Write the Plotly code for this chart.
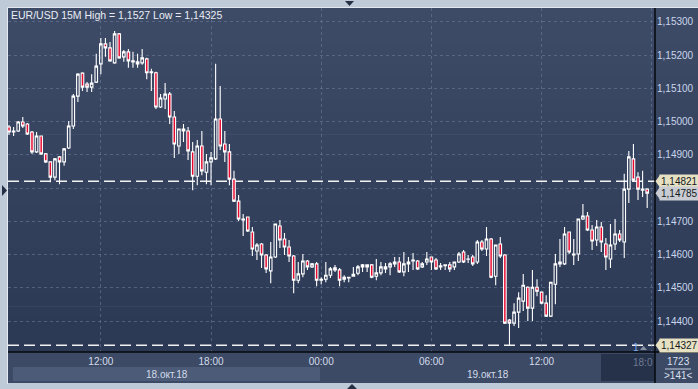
import plotly.graph_objects as go
import pandas as pd

# ---------------- data ----------------
times = pd.date_range("2018-10-18 07:00", periods=140, freq="15min")

opens = [1.14984, 1.14969, 1.14972, 1.14999, 1.14993, 1.14969, 1.14909, 1.14957, 1.14903, 1.14879,
         1.14833, 1.14894, 1.14879, 1.14921, 1.14987, 1.15077, 1.15146, 1.15113, 1.15104, 1.15119,
         1.15174, 1.15234, 1.15222, 1.15177, 1.15264, 1.15195, 1.15210, 1.15180, 1.15180, 1.15177,
         1.15189, 1.15147, 1.15147, 1.15044, 1.15068, 1.15083, 1.15014, 1.14927, 1.14972, 1.14972,
         1.14909, 1.14836, 1.14927, 1.14848, 1.14879, 1.14888, 1.15008, 1.14933, 1.14909, 1.14827,
         1.14761, 1.14704, 1.14713, 1.14668, 1.14611, 1.14632, 1.14599, 1.14551, 1.14593, 1.14686,
         1.14647, 1.14623, 1.14596, 1.14523, 1.14542, 1.14581, 1.14563, 1.14572, 1.14523, 1.14526,
         1.14538, 1.14560, 1.14554, 1.14526, 1.14530, 1.14535, 1.14544, 1.14563, 1.14569, 1.14569,
         1.14535, 1.14545, 1.14563, 1.14563, 1.14572, 1.14578, 1.14548, 1.14572, 1.14581, 1.14581,
         1.14563, 1.14578, 1.14593, 1.14584, 1.14563, 1.14567, 1.14569, 1.14563, 1.14578, 1.14608,
         1.14586, 1.14593, 1.14578, 1.14638, 1.14617, 1.14647, 1.14535, 1.14632, 1.14599, 1.14403,
         1.14394, 1.14427, 1.14460, 1.14502, 1.14439, 1.14502, 1.14487, 1.14454, 1.14415, 1.14511,
         1.14572, 1.14572, 1.14668, 1.14599, 1.14602, 1.14707, 1.14716, 1.14674, 1.14644, 1.14683,
         1.14632, 1.14587, 1.14632, 1.14662, 1.14638, 1.14797, 1.14888, 1.14833, 1.14794, 1.14797]

highs = [1.14990, 1.14984, 1.15002, 1.15014, 1.14996, 1.14972, 1.14969, 1.14957, 1.14906, 1.14879,
         1.14891, 1.14897, 1.14921, 1.15002, 1.15083, 1.15146, 1.15149, 1.15119, 1.15143, 1.15204,
         1.15252, 1.15252, 1.15240, 1.15273, 1.15267, 1.15216, 1.15219, 1.15210, 1.15204, 1.15219,
         1.15192, 1.15159, 1.15150, 1.15083, 1.15116, 1.15089, 1.15032, 1.14978, 1.14993, 1.14984,
         1.14939, 1.14945, 1.14972, 1.14903, 1.14909, 1.15174, 1.15107, 1.14972, 1.14933, 1.14852,
         1.14779, 1.14722, 1.14713, 1.14683, 1.14635, 1.14635, 1.14602, 1.14638, 1.14692, 1.14704,
         1.14665, 1.14644, 1.14599, 1.14578, 1.14602, 1.14584, 1.14575, 1.14578, 1.14532, 1.14578,
         1.14563, 1.14569, 1.14560, 1.14538, 1.14533, 1.14563, 1.14569, 1.14572, 1.14571, 1.14572,
         1.14587, 1.14578, 1.14575, 1.14578, 1.14593, 1.14593, 1.14608, 1.14593, 1.14605, 1.14584,
         1.14578, 1.14608, 1.14593, 1.14590, 1.14575, 1.14569, 1.14578, 1.14578, 1.14608, 1.14614,
         1.14599, 1.14599, 1.14644, 1.14644, 1.14683, 1.14650, 1.14629, 1.14653, 1.14602, 1.14406,
         1.14454, 1.14487, 1.14542, 1.14505, 1.14554, 1.14526, 1.14487, 1.14478, 1.14517, 1.14602,
         1.14647, 1.14683, 1.14668, 1.14647, 1.14707, 1.14752, 1.14728, 1.14689, 1.14704, 1.14698,
         1.14650, 1.14692, 1.14707, 1.14674, 1.14843, 1.14912, 1.14933, 1.14848, 1.14852, 1.14800]

lows = [1.14960, 1.14957, 1.14969, 1.14981, 1.14960, 1.14903, 1.14906, 1.14900, 1.14876, 1.14818,
        1.14824, 1.14812, 1.14867, 1.14918, 1.14978, 1.15059, 1.15092, 1.15089, 1.15089, 1.15116,
        1.15143, 1.15195, 1.15180, 1.15174, 1.15189, 1.15180, 1.15162, 1.15162, 1.15162, 1.15171,
        1.15128, 1.15092, 1.15038, 1.15041, 1.15038, 1.14993, 1.14891, 1.14903, 1.14939, 1.14885,
        1.14794, 1.14809, 1.14839, 1.14812, 1.14809, 1.14885, 1.14915, 1.14879, 1.14809, 1.14758,
        1.14701, 1.14656, 1.14668, 1.14596, 1.14584, 1.14560, 1.14545, 1.14514, 1.14590, 1.14620,
        1.14599, 1.14578, 1.14484, 1.14514, 1.14532, 1.14554, 1.14560, 1.14505, 1.14511, 1.14517,
        1.14530, 1.14548, 1.14505, 1.14517, 1.14517, 1.14535, 1.14538, 1.14548, 1.14548, 1.14529,
        1.14523, 1.14538, 1.14545, 1.14538, 1.14563, 1.14545, 1.14535, 1.14548, 1.14554, 1.14554,
        1.14560, 1.14569, 1.14554, 1.14554, 1.14554, 1.14554, 1.14548, 1.14554, 1.14575, 1.14575,
        1.14575, 1.14566, 1.14572, 1.14611, 1.14596, 1.14529, 1.14508, 1.14590, 1.14391, 1.14325,
        1.14385, 1.14379, 1.14430, 1.14400, 1.14400, 1.14475, 1.14451, 1.14412, 1.14412, 1.14451,
        1.14563, 1.14569, 1.14602, 1.14569, 1.14581, 1.14704, 1.14671, 1.14614, 1.14626, 1.14608,
        1.14554, 1.14560, 1.14614, 1.14638, 1.14590, 1.14755, 1.14821, 1.14764, 1.14773, 1.14740]

closes = [1.14969, 1.14972, 1.14999, 1.14987, 1.14963, 1.14909, 1.14957, 1.14903, 1.14879, 1.14833,
          1.14888, 1.14879, 1.14918, 1.14987, 1.15077, 1.15143, 1.15104, 1.15104, 1.15116, 1.15167,
          1.15234, 1.15222, 1.15183, 1.15264, 1.15192, 1.15210, 1.15183, 1.15183, 1.15174, 1.15192,
          1.15147, 1.15150, 1.15044, 1.15071, 1.15083, 1.15014, 1.14933, 1.14978, 1.14978, 1.14912,
          1.14836, 1.14927, 1.14852, 1.14879, 1.14891, 1.15008, 1.14927, 1.14909, 1.14827, 1.14761,
          1.14707, 1.14707, 1.14671, 1.14617, 1.14629, 1.14599, 1.14557, 1.14593, 1.14692, 1.14644,
          1.14623, 1.14596, 1.14523, 1.14542, 1.14581, 1.14563, 1.14572, 1.14523, 1.14526, 1.14538,
          1.14557, 1.14554, 1.14523, 1.14532, 1.14532, 1.14541, 1.14563, 1.14569, 1.14563, 1.14532,
          1.14545, 1.14563, 1.14557, 1.14572, 1.14578, 1.14548, 1.14572, 1.14578, 1.14584, 1.14557,
          1.14572, 1.14587, 1.14578, 1.14557, 1.14566, 1.14569, 1.14557, 1.14578, 1.14602, 1.14578,
          1.14587, 1.14572, 1.14638, 1.14617, 1.14647, 1.14532, 1.14629, 1.14596, 1.14394, 1.14394,
          1.14427, 1.14469, 1.14508, 1.14439, 1.14502, 1.14490, 1.14454, 1.14415, 1.14517, 1.14572,
          1.14578, 1.14662, 1.14608, 1.14602, 1.14707, 1.14716, 1.14674, 1.14641, 1.14683, 1.14638,
          1.14593, 1.14629, 1.14662, 1.14644, 1.14797, 1.14894, 1.14824, 1.14797, 1.14797, 1.14785]

price_ticks = [1.144, 1.145, 1.146, 1.147, 1.148, 1.149, 1.150, 1.151, 1.152, 1.153]
price_labels = ["1,14400", "1,14500", "1,14600", "1,14700", "", "1,14900",
                "1,15000", "1,15100", "1,15200", "1,15300"]
time_ticks = ["2018-10-18 12:00", "2018-10-18 18:00", "2018-10-19 00:00",
              "2018-10-19 06:00", "2018-10-19 12:00", "2018-10-19 18:00"]
time_labels = ["12:00", "18:00", "00:00", "06:00", "12:00", ""]
date_labels = ["18.окт.18", "19.окт.18"]
title_text = "EUR/USD 15M High = 1,1527 Low = 1,14325"
level_prices = [1.14821, 1.14327]
level_labels = ["1,14821", "1,14327"]
last_price = 1.14785
last_label = "1,14785"

# ---------------- layout geometry ----------------
W, H = 698, 389
ML, MR, MT, MB = 8, 43, 8, 37
PW, PH = W - ML - MR, H - MT - MB
FONT = "Liberation Sans, Arial, sans-serif"


def pxx(x):
    return (x - ML) / PW


def pxy(y):
    return (H - MB - y) / PH


YR = [1.14307, 1.15342]
ypp = (YR[1] - YR[0]) / PH  # price per pixel

fig = go.Figure()
fig.add_trace(go.Candlestick(
    x=times, open=opens, high=highs, low=lows, close=closes,
    increasing=dict(line=dict(color="#ffffff", width=1.1), fillcolor="rgba(0,0,0,0)"),
    decreasing=dict(line=dict(color="#ffffff", width=1.1), fillcolor="#e8092f"),
    hoverinfo="skip", showlegend=False,
))

shapes = []
# gradient background (plot + right axis)
top_c = (62, 75, 103)
bot_c = (44, 57, 85)
N = 30
for i in range(N):
    t = i / (N - 1)
    c = tuple(int(round(top_c[k] + (bot_c[k] - top_c[k]) * t)) for k in range(3))
    y0 = 8 + i * (344 / N)
    y1 = 8 + (i + 1) * (344 / N)
    shapes.append(dict(type="rect", xref="paper", yref="paper",
                       x0=pxx(8), x1=pxx(698), y0=pxy(y1) - 0.002, y1=pxy(y0),
                       fillcolor="rgb(%d,%d,%d)" % c, line=dict(width=0), layer="below"))
# light inner edge of the frame
shapes.append(dict(type="line", xref="paper", yref="paper", x0=pxx(7.5), x1=pxx(7.5),
                   y0=pxy(384), y1=pxy(7.5), line=dict(color="#e4e9f0", width=1), layer="below"))
shapes.append(dict(type="line", xref="paper", yref="paper", x0=pxx(7.5), x1=pxx(698),
                   y0=pxy(7.5), y1=pxy(7.5), line=dict(color="#e4e9f0", width=1), layer="below"))
# bottom time bar
shapes.append(dict(type="rect", xref="paper", yref="paper", x0=pxx(8), x1=pxx(698),
                   y0=pxy(383), y1=pxy(352), fillcolor="rgb(61,74,101)",
                   line=dict(width=0), layer="below"))
# date band of 18 Oct
shapes.append(dict(type="rect", xref="paper", yref="paper", x0=pxx(13), x1=pxx(320),
                   y0=pxy(381), y1=pxy(367), fillcolor="rgb(76,91,119)",
                   line=dict(width=0), layer="below"))
# dark future block
shapes.append(dict(type="rect", xref="paper", yref="paper", x0=pxx(601), x1=pxx(655),
                   y0=pxy(381), y1=pxy(354), fillcolor="rgb(38,50,74)",
                   line=dict(width=0), layer="below"))
# dashed level lines
for lp in level_prices:
    shapes.append(dict(type="line", xref="paper", yref="y", x0=0, x1=1, y0=lp, y1=lp,
                       line=dict(color="#f2f2f2", width=1.5, dash="11px,5px"), layer="between"))
# black frame lines
shapes.append(dict(type="line", xref="paper", yref="paper", x0=1, x1=1,
                   y0=pxy(383), y1=pxy(8), line=dict(color="#05080d", width=1.5)))
shapes.append(dict(type="line", xref="paper", yref="paper", x0=pxx(8), x1=pxx(698),
                   y0=0, y1=0, line=dict(color="#05080d", width=1.5)))
# tag pointers
for lp, col in [(level_prices[0], "#e6e1c3"), (last_price, "#c9cdd3"), (level_prices[1], "#e6e1c3")]:
    shapes.append(dict(type="path", xref="paper", yref="y",
                       path="M %f,%f L %f,%f L %f,%f Z" % (pxx(655.5), lp, pxx(660.5), lp + 7 * ypp,
                                                          pxx(660.5), lp - 7 * ypp),
                       fillcolor=col, line=dict(width=0)))
# separator line in bottom-right box
shapes.append(dict(type="line", xref="paper", yref="paper", x0=pxx(665), x1=pxx(691),
                   y0=pxy(369), y1=pxy(369), line=dict(color="#c8d2e2", width=1)))
# small decorative arrows on the frame
shapes.append(dict(type="path", xref="paper", yref="paper",
                   path="M %f,%f L %f,%f L %f,%f Z" % (pxx(345), pxy(1), pxx(354), pxy(1), pxx(349.5), pxy(6)),
                   fillcolor="#263044", line=dict(width=0)))
shapes.append(dict(type="path", xref="paper", yref="paper",
                   path="M %f,%f L %f,%f L %f,%f Z" % (pxx(347), pxy(389), pxx(357), pxy(389), pxx(352), pxy(384)),
                   fillcolor="#263044", line=dict(width=0)))
shapes.append(dict(type="path", xref="paper", yref="paper",
                   path="M %f,%f L %f,%f L %f,%f Z" % (pxx(2), pxy(185), pxx(2), pxy(196), pxx(7), pxy(190.5)),
                   fillcolor="#263044", line=dict(width=0)))
shapes.append(dict(type="path", xref="paper", yref="paper",
                   path="M %f,%f L %f,%f L %f,%f Z" % (pxx(640), pxy(350), pxx(647), pxy(350), pxx(643.5), pxy(346)),
                   fillcolor="#8a93a6", line=dict(width=0)))

ann = []
ann.append(dict(text=title_text, xref="paper", yref="paper", x=pxx(9), y=pxy(15),
                xanchor="left", yanchor="middle", showarrow=False,
                font=dict(family=FONT, size=10.5, color="#e8edf5")))
ann.append(dict(text=date_labels[0], xref="paper", yref="paper", x=pxx(167), y=pxy(374),
                xanchor="center", yanchor="middle", showarrow=False,
                font=dict(family=FONT, size=10, color="#d3dcec")))
ann.append(dict(text=date_labels[1], xref="paper", yref="paper", x=pxx(488), y=pxy(374),
                xanchor="center", yanchor="middle", showarrow=False,
                font=dict(family=FONT, size=10, color="#d3dcec")))
ann.append(dict(text="18:0", xref="paper", yref="paper", x=1, y=pxy(362),
                xanchor="right", yanchor="middle", showarrow=False,
                font=dict(family=FONT, size=10, color="#6d7a94")))
for lp, lab, col in [(level_prices[0], level_labels[0], "#e6e1c3"),
                     (last_price, last_label, "#c9cdd3"),
                     (level_prices[1], level_labels[1], "#e6e1c3")]:
    ann.append(dict(text=lab, xref="paper", yref="y", x=pxx(659.5), y=lp,
                    xanchor="left", yanchor="middle", showarrow=False, bgcolor=col,
                    borderpad=1, font=dict(family=FONT, size=10, color="#15181d")))
ann.append(dict(text="1723", xref="paper", yref="paper", x=pxx(678), y=pxy(361),
                xanchor="center", yanchor="middle", showarrow=False,
                font=dict(family=FONT, size=10, color="#d8e0ee")))
ann.append(dict(text="&gt;141&lt;", xref="paper", yref="paper", x=pxx(678), y=pxy(376),
                xanchor="center", yanchor="middle", showarrow=False,
                font=dict(family=FONT, size=10, color="#d8e0ee")))
ann.append(dict(text="1", xref="paper", yref="paper", x=pxx(636), y=pxy(347),
                xanchor="center", yanchor="middle", showarrow=False,
                font=dict(family=FONT, size=10, color="#79aef5")))

grid_col = "rgba(112,128,160,0.55)"
fig.update_layout(
    width=W, height=H, margin=dict(l=ML, r=MR, t=MT, b=MB, pad=0, autoexpand=False),
    paper_bgcolor="rgb(191,202,217)", plot_bgcolor="rgba(0,0,0,0)",
    shapes=shapes, annotations=ann, showlegend=False, hovermode=False,
    boxgap=0.2,
    font=dict(family=FONT, size=10, color="#d3dcec"),
    xaxis=dict(type="date", range=["2018-10-18 06:56:40", "2018-10-19 18:10:30"],
               tickmode="array", tickvals=time_ticks, ticktext=time_labels,
               showgrid=True, gridcolor=grid_col, griddash="dot", gridwidth=1,
               zeroline=False, showline=False, ticks="", ticklabelstandoff=2,
               automargin=False,
               tickfont=dict(family=FONT, size=10, color="#d3dcec"),
               rangeslider=dict(visible=False), fixedrange=True),
    yaxis=dict(range=YR, side="right", tickmode="array", tickvals=price_ticks,
               ticktext=price_labels, showgrid=True, gridcolor=grid_col, griddash="dot",
               gridwidth=1, zeroline=False, showline=False, ticks="",
               ticklabelstandoff=1, automargin=False,
               tickfont=dict(family=FONT, size=10, color="#c9d6ec"), fixedrange=True),
)

fig.write_html("out.html", config={"displayModeBar": False},
               post_script="document.body.style.margin='0';document.body.style.overflow='hidden';")
